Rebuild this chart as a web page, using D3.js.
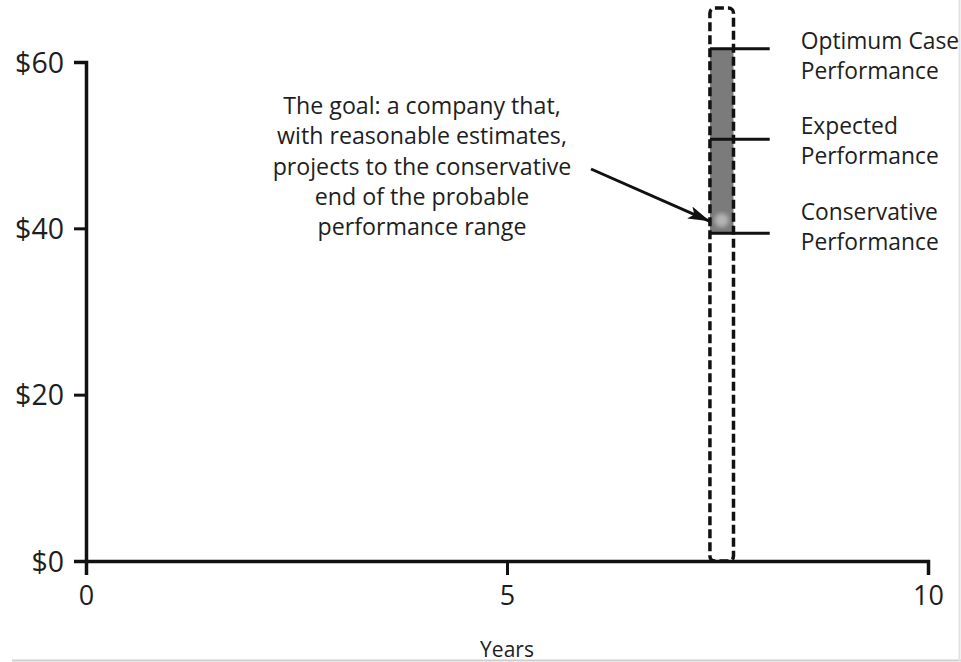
<!DOCTYPE html>
<html>
<head>
<meta charset="utf-8">
<script src="https://cdn.jsdelivr.net/npm/d3@7"></script>
<style>
  html, body { margin: 0; padding: 0; background: #ffffff; }
  svg { display: block; }
  text { font-family: "Open Sans", "Noto Sans", sans-serif; fill: #1e1e1e; font-weight: 500; }
</style>
</head>
<body>
<svg id="chart" width="961" height="662"></svg>
<script>
// ---- data ----
const yTickValues = [0, 20, 40, 60];
const yTickLabels = ["$0", "$20", "$40", "$60"];
const xTickValues = [0, 5, 10];
const xTickLabels = ["0", "5", "10"];
const xAxisTitle = "Years";
const bandYears = [7.41, 7.69];          // probable performance window (years)
const bandTopValue = 66.5;               // dashed window extends above the chart
const levelNames = ["Optimum Case", "Expected", "Conservative"];
const levelValues = [61.6, 50.7, 39.4];  // $ values
const levelLineEndYear = 8.12;
const annotationLines = [
  "The goal: a company that,",
  "with reasonable estimates,",
  "projects to the conservative",
  "end of the probable",
  "performance range"
];

// ---- layout ----
const W = 961, H = 662;
const svg = d3.select("#chart");
const x = d3.scaleLinear().domain([0, 10]).range([86, 928]);
const y = d3.scaleLinear().domain([0, 60]).range([561, 62]);

// frame lines (scan border)
svg.append("line").attr("x1", 12).attr("x2", W).attr("y1", 660.5).attr("y2", 660.5)
  .attr("stroke", "#cfcfcf").attr("stroke-width", 2);
svg.append("line").attr("x1", 959.5).attr("x2", 959.5).attr("y1", 0).attr("y2", 661)
  .attr("stroke", "#e2e2e2").attr("stroke-width", 2);

// gray range fill
const bx0 = x(bandYears[0]), bx1 = x(bandYears[1]);
svg.append("rect")
  .attr("x", bx0).attr("width", bx1 - bx0)
  .attr("y", y(levelValues[0])).attr("height", y(levelValues[2]) - y(levelValues[0]))
  .attr("fill", "#7b7b7b");

// light spot at the conservative end
const defs = svg.append("defs");
defs.append("filter").attr("id", "blur").append("feGaussianBlur").attr("stdDeviation", 2);
svg.append("circle")
  .attr("cx", (bx0 + bx1) / 2).attr("cy", y(levelValues[2]) - 13).attr("r", 7)
  .attr("fill", "#b3b3b3").attr("filter", "url(#blur)");

// dashed window
svg.append("rect")
  .attr("x", bx0).attr("width", bx1 - bx0)
  .attr("y", y(bandTopValue)).attr("height", y(0) - y(bandTopValue))
  .attr("rx", 5)
  .attr("fill", "none").attr("stroke", "#111").attr("stroke-width", 3.5)
  .attr("stroke-dasharray", "9,4");

// level lines
svg.selectAll("line.level").data(levelValues).enter().append("line")
  .attr("class", "level")
  .attr("x1", bx0).attr("x2", x(levelLineEndYear))
  .attr("y1", d => y(d)).attr("y2", d => y(d))
  .attr("stroke", "#111").attr("stroke-width", 3);

// level labels
const labelDy = [8, 3, -5];
const lg = svg.selectAll("g.lab").data(levelNames).enter().append("g").attr("class", "lab");
lg.each(function (name, i) {
  const cy = y(levelValues[i]) + labelDy[i];
  const lx = x(levelLineEndYear) + 31;
  const t = d3.select(this).append("text").attr("x", lx).attr("font-size", 22.8);
  t.append("tspan").attr("x", lx).attr("y", cy - 8).text(name);
  t.append("tspan").attr("x", lx).attr("y", cy + 22).text("Performance");
});

// axes
const yAxis = d3.axisLeft(y).tickValues(yTickValues)
  .tickFormat((d, i) => yTickLabels[i]).tickSizeOuter(0).tickSize(12).tickPadding(10);
const gy = svg.append("g").attr("transform", `translate(${x(0)},0)`).call(yAxis);
gy.select(".domain").attr("stroke", "#111").attr("stroke-width", 3.5);
gy.selectAll(".tick line").attr("stroke", "#111").attr("stroke-width", 3);
gy.selectAll(".tick text").attr("font-size", 28.5).attr("font-family", "'Open Sans', sans-serif")
  .attr("fill", "#1e1e1e").attr("font-weight", 500).attr("dy", "0.36em");

const xAxis = d3.axisBottom(x).tickValues(xTickValues)
  .tickFormat((d, i) => xTickLabels[i]).tickSizeOuter(0).tickSize(14).tickPadding(11);
const gx = svg.append("g").attr("transform", `translate(0,${y(0)})`).call(xAxis);
gx.select(".domain").attr("stroke", "#111").attr("stroke-width", 3.5);
gx.selectAll(".tick line").attr("stroke", "#111").attr("stroke-width", 3);
gx.selectAll(".tick text").attr("font-size", 27).attr("font-family", "'Open Sans', sans-serif")
  .attr("fill", "#1e1e1e").attr("font-weight", 500);

svg.append("text").attr("x", x(5)).attr("y", 657).attr("text-anchor", "middle")
  .attr("font-size", 21).text(xAxisTitle);

// annotation
const at = svg.append("text").attr("text-anchor", "middle").attr("font-size", 23.2);
annotationLines.forEach((line, i) => {
  at.append("tspan").attr("x", 422).attr("y", 114 + i * 30.3).text(line);
});

// arrow
defs.append("marker").attr("id", "arrow").attr("viewBox", "0 0 22 13")
  .attr("refX", 22).attr("refY", 6.5).attr("markerWidth", 22).attr("markerHeight", 13)
  .attr("markerUnits", "userSpaceOnUse").attr("orient", "auto")
  .append("path").attr("d", "M0,0 L22,6.5 L0,13 L5,6.5 Z").attr("fill", "#111");
svg.append("line")
  .attr("x1", 591).attr("y1", 169)
  .attr("x2", bx0).attr("y2", y(levelValues[2]) - 12)
  .attr("stroke", "#111").attr("stroke-width", 3)
  .attr("marker-end", "url(#arrow)");
</script>
</body>
</html>
